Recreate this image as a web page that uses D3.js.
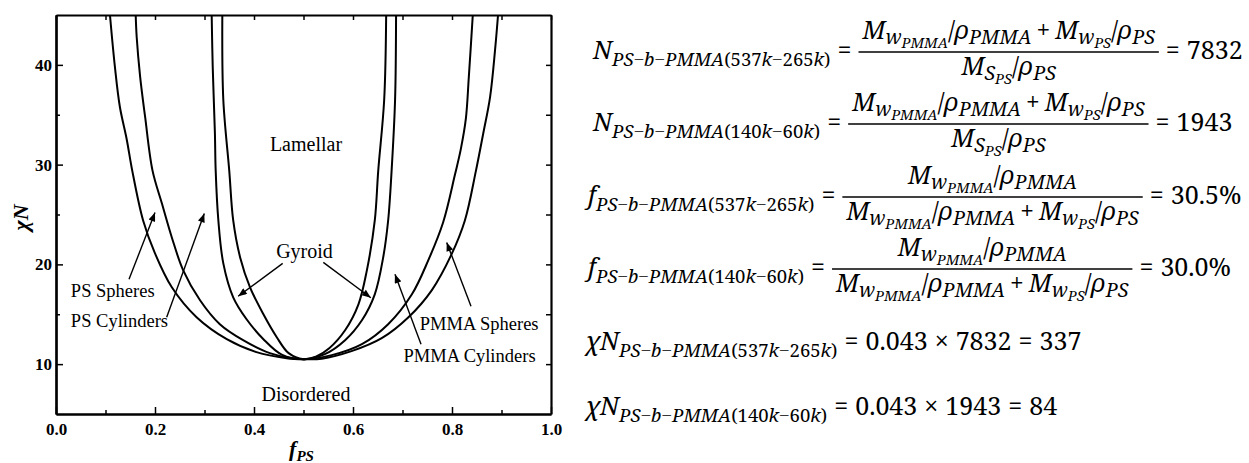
<!DOCTYPE html>
<html>
<head>
<meta charset="utf-8">
<script src="https://cdn.jsdelivr.net/npm/d3@7/dist/d3.min.js"></script>
<style>
  body { margin: 0; background: #fff; }
  svg { display: block; }
</style>
</head>
<body>
<div id="chart"></div>
<script>
// phase boundaries, each point is [f_PS, chiN]
var odtBoundary = [
  [0.109, 45.0], [0.119, 39.8], [0.129, 35.8], [0.143, 32.5], [0.154, 29.4],
  [0.176, 24.4], [0.200, 21.1], [0.234, 17.7], [0.284, 14.7], [0.345, 12.5],
  [0.405, 11.2], [0.466, 10.6], [0.500, 10.5], [0.537, 10.55], [0.597, 11.3],
  [0.658, 12.6], [0.712, 14.7], [0.759, 17.4], [0.799, 21.0], [0.826, 24.4],
  [0.848, 29.3], [0.863, 33.1], [0.877, 36.8], [0.887, 41.5], [0.893, 45.0]
];
var sphereCylBoundary = [
  [0.161, 45.0], [0.163, 42.8], [0.170, 38.8], [0.180, 34.8], [0.195, 29.4],
  [0.214, 26.1], [0.234, 22.7], [0.257, 19.4], [0.291, 16.4], [0.331, 14.0],
  [0.378, 12.4], [0.432, 11.1], [0.500, 10.5], [0.557, 10.9], [0.618, 12.0],
  [0.671, 14.0], [0.719, 17.0], [0.752, 20.4], [0.782, 24.2], [0.806, 29.0],
  [0.818, 31.6], [0.828, 34.6], [0.834, 38.8], [0.842, 45.0]
];
var cylGyroidBoundary = [
  [0.3145, 45.0], [0.3166, 39.8], [0.321, 33.2], [0.3226, 29.4], [0.328, 24.4],
  [0.338, 20.1], [0.358, 16.7], [0.385, 14.5], [0.419, 12.5], [0.456, 10.95],
  [0.500, 10.5], [0.543, 11.0], [0.584, 12.4], [0.618, 14.4], [0.644, 17.0],
  [0.661, 20.7], [0.671, 24.4], [0.678, 29.4], [0.685, 36.5], [0.687, 45.0]
];
var gyroidLamBoundary = [
  [0.336, 45.0], [0.338, 36.5], [0.350, 29.4], [0.358, 24.4], [0.372, 20.7],
  [0.392, 17.7], [0.419, 15.0], [0.446, 12.7], [0.470, 11.1], [0.500, 10.5],
  [0.525, 10.75], [0.552, 11.6], [0.584, 13.4], [0.611, 16.0], [0.628, 19.4],
  [0.644, 24.4], [0.651, 29.4], [0.663, 36.5], [0.667, 45.0]
];

var xMajorTicks = [0, 0.2, 0.4, 0.6, 0.8, 1.0];
var xMinorTicks = [0.1, 0.3, 0.5, 0.7, 0.9];
var yMajorTicks = [10, 20, 30, 40];
var yMinorTicks = [15, 25, 35];

// region names and the places (in f_PS, chiN) where they sit
var phaseNames = ["Lamellar", "Gyroid", "Disordered"];
var phaseNameAt = [[0.505, 31.4], [0.502, 20.6], [0.505, 6.3]];
var pointerNames = ["PS Spheres", "PS Cylinders", "PMMA Spheres", "PMMA Cylinders"];
var pointerNameAt = [[0.030, 16.7], [0.030, 13.7], [0.735, 13.45], [0.702, 10.25]];
// arrows: [from, to]
var arrows = [
  [[0.1475, 18.5], [0.200, 25.2]],
  [[0.2236, 14.7], [0.2996, 25.1]],
  [[0.458, 20.1], [0.368, 16.8]],
  [[0.540, 20.2], [0.636, 16.65]],
  [[0.8384, 15.8], [0.7893, 22.2]],
  [[0.7374, 12.0], [0.6848, 19.0]]
];

// equations on the right
var polymers = ["PS\u2212b\u2212PMMA(537k\u2212265k)", "PS\u2212b\u2212PMMA(140k\u221260k)"];
var chainLengths = ["7832", "1943"];
var fractions = ["30.5%", "30.0%"];
var chiValue = "0.043";
var chiN = ["337", "84"];

var width = 1249, height = 463;
var serif = "Liberation Serif";
var mathSerif = "Noto Serif";

var svg = d3.select("#chart").append("svg")
  .attr("width", width)
  .attr("height", height)
  .style("background", "#fff");

var x = d3.scaleLinear().domain([0, 1]).range([56, 551]);
var y = d3.scaleLinear().domain([5, 45]).range([414, 15]);

var defs = svg.append("defs");
defs.append("clipPath").attr("id", "plot")
  .append("rect")
  .attr("x", x(0)).attr("y", y(45))
  .attr("width", x(1) - x(0)).attr("height", y(5) - y(45));

var marker = defs.append("marker")
  .attr("id", "head")
  .attr("viewBox", "0 0 10 8")
  .attr("refX", 10).attr("refY", 4)
  .attr("markerWidth", 11).attr("markerHeight", 7)
  .attr("markerUnits", "userSpaceOnUse")
  .attr("orient", "auto");
marker.append("path").attr("d", "M0,0 L10,4 L0,8 Z").attr("fill", "#000");

// curves
var line = d3.line()
  .x(function(d) { return x(d[0]); })
  .y(function(d) { return y(d[1]); })
  .curve(d3.curveCatmullRom.alpha(0.5));

svg.append("g").attr("clip-path", "url(#plot)")
  .selectAll("path")
  .data([odtBoundary, sphereCylBoundary, cylGyroidBoundary, gyroidLamBoundary])
  .enter().append("path")
  .attr("d", line)
  .attr("fill", "none")
  .attr("stroke", "#000")
  .attr("stroke-width", 2);

// axes, ticks point inward on all four sides
function styleAxis(g) {
  g.attr("font-family", null).attr("font-size", null);
  g.select(".domain").attr("stroke-width", 2.2);
  g.selectAll(".tick line").attr("stroke-width", 1.5);
  g.selectAll("text")
    .style("font-family", serif)
    .style("font-weight", "bold")
    .style("font-size", "17px")
    .attr("fill", "#000");
}

svg.append("g").attr("transform", "translate(0," + y(5) + ")")
  .call(d3.axisBottom(x).tickValues(xMajorTicks).tickSize(-7).tickSizeOuter(0)
    .tickPadding(9).tickFormat(d3.format(".1f")))
  .call(styleAxis);
svg.append("g").attr("transform", "translate(0," + y(5) + ")")
  .call(d3.axisBottom(x).tickValues(xMinorTicks).tickSize(-4).tickSizeOuter(0).tickFormat(""))
  .call(styleAxis);
svg.append("g").attr("transform", "translate(0," + y(45) + ")")
  .call(d3.axisTop(x).tickValues(xMajorTicks.concat(xMinorTicks)).tickSize(-5).tickSizeOuter(0).tickFormat(""))
  .call(styleAxis);

svg.append("g").attr("transform", "translate(" + x(0) + ",0)")
  .call(d3.axisLeft(y).tickValues(yMajorTicks).tickSize(-7).tickSizeOuter(0).tickPadding(4))
  .call(styleAxis);
svg.append("g").attr("transform", "translate(" + x(0) + ",0)")
  .call(d3.axisLeft(y).tickValues(yMinorTicks).tickSize(-4).tickSizeOuter(0).tickFormat(""))
  .call(styleAxis);
svg.append("g").attr("transform", "translate(" + x(1) + ",0)")
  .call(d3.axisRight(y).tickValues(yMajorTicks.concat(yMinorTicks)).tickSize(-5).tickSizeOuter(0).tickFormat(""))
  .call(styleAxis);

// axis titles
svg.append("text")
  .attr("transform", "translate(28," + (y(25) + 3) + ") rotate(-90)")
  .attr("text-anchor", "middle")
  .style("font-family", serif)
  .style("font-weight", "bold")
  .style("font-style", "italic")
  .style("font-size", "22px")
  .text("\u03C7N");

var xTitle = svg.append("text")
  .attr("x", x(0.5) - 2)
  .attr("y", 456)
  .attr("text-anchor", "middle")
  .style("font-family", serif)
  .style("font-weight", "bold")
  .style("font-style", "italic")
  .style("font-size", "22px");
xTitle.append("tspan").text("f");
xTitle.append("tspan").attr("dy", 5).style("font-size", "15px").text("PS");

// region labels
svg.selectAll(".phase")
  .data(phaseNames)
  .enter().append("text")
  .attr("class", "phase")
  .attr("x", function(d, i) { return x(phaseNameAt[i][0]); })
  .attr("y", function(d, i) { return y(phaseNameAt[i][1]); })
  .attr("text-anchor", "middle")
  .style("font-family", serif)
  .style("font-size", "20px")
  .text(function(d) { return d; });

svg.selectAll(".pointer")
  .data(pointerNames)
  .enter().append("text")
  .attr("class", "pointer")
  .attr("x", function(d, i) { return x(pointerNameAt[i][0]); })
  .attr("y", function(d, i) { return y(pointerNameAt[i][1]); })
  .style("font-family", serif)
  .style("font-size", "18.5px")
  .text(function(d) { return d; });

svg.selectAll(".arrow")
  .data(arrows)
  .enter().append("line")
  .attr("class", "arrow")
  .attr("x1", function(d) { return x(d[0][0]); })
  .attr("y1", function(d) { return y(d[0][1]); })
  .attr("x2", function(d) { return x(d[1][0]); })
  .attr("y2", function(d) { return y(d[1][1]); })
  .attr("stroke", "#000")
  .attr("stroke-width", 1.4)
  .attr("marker-end", "url(#head)");

// ---- equations ----
var MAIN = 25, SUB = 18.5;
// fractions are set a little tighter
var F_MAIN = 24.5, F_SUB = 19.5, F_SUBSUB = 14.5;

function t(text, size, italic, dy, font) { return { t: text, size: size, it: italic, dy: dy || 0, font: font }; }
function gap(w) { return { gap: w }; }

// subscript like PS-b-PMMA(537k-265k): letters italic, digits upright, long minus
function polymerSub(label, dy) {
  return label.split(/([0-9()]+|\u2212)/).filter(function(s) { return s.length; })
    .map(function(s) {
      if (s === "\u2212") return t(s, SUB, false, dy, serif);
      return t(s, SUB, !/[0-9()]/.test(s), dy);
    });
}
function massTerm(sub, subsub) {
  return [t("M", F_MAIN, true), t(sub, F_SUB, true, 5), t(subsub, F_SUBSUB, true, 9)];
}
function densityTerm(name) {
  return [t("/", F_MAIN, false), t("\u03C1", F_MAIN, true), t(name, F_SUB, true, 5)];
}
var pmmaPart = massTerm("w", "PMMA").concat(densityTerm("PMMA"));
var psPart = massTerm("w", "PS").concat(densityTerm("PS"));
var totalVolume = pmmaPart.concat([gap(5), t("+", F_MAIN, false), gap(5)]).concat(psPart);
var segmentVolume = massTerm("S", "PS").concat(densityTerm("PS"));

function eqSign() { return [gap(7), t("=", MAIN, false), gap(7)]; }
function times() { return [gap(7), t("\u00D7", MAIN, false), gap(7)]; }

var equations = [
  { x0: 593, base: 59, items: [t("N", MAIN, true)].concat(polymerSub(polymers[0], 7), eqSign(),
      [{ num: totalVolume, den: segmentVolume }], eqSign(), [t(chainLengths[0], MAIN, false)]) },
  { x0: 593, base: 131, items: [t("N", MAIN, true)].concat(polymerSub(polymers[1], 7), eqSign(),
      [{ num: totalVolume, den: segmentVolume }], eqSign(), [t(chainLengths[1], MAIN, false)]) },
  { x0: 588, base: 204, items: [t("f", MAIN, true)].concat(polymerSub(polymers[0], 7), eqSign(),
      [{ num: pmmaPart, den: totalVolume }], eqSign(), [t(fractions[0], MAIN, false)]) },
  { x0: 588, base: 276, items: [t("f", MAIN, true)].concat(polymerSub(polymers[1], 7), eqSign(),
      [{ num: pmmaPart, den: totalVolume }], eqSign(), [t(fractions[1], MAIN, false)]) },
  { x0: 586, base: 350, items: [t("\u03C7N", MAIN, true)].concat(polymerSub(polymers[0], 7), eqSign(),
      [t(chiValue, MAIN, false)], times(), [t(chainLengths[0], MAIN, false)],
      eqSign(), [t(chiN[0], MAIN, false)]) },
  { x0: 586, base: 415, items: [t("\u03C7N", MAIN, true)].concat(polymerSub(polymers[1], 7), eqSign(),
      [t(chiValue, MAIN, false)], times(), [t(chainLengths[1], MAIN, false)],
      eqSign(), [t(chiN[1], MAIN, false)]) }
];

var eqLayer = svg.append("g").attr("fill", "#000");

// lays tokens out left to right from x0 on a baseline, returns the end x
function flow(g, tokens, x0, base) {
  var cx = x0;
  tokens.forEach(function(k) {
    if (k.gap) { cx += k.gap; return; }
    var node = g.append("text")
      .attr("x", cx)
      .attr("y", base + k.dy)
      .style("font-family", k.font || mathSerif)
      .style("font-size", k.size + "px")
      .style("font-style", k.it ? "italic" : "normal")
      .text(k.t);
    cx += node.node().getComputedTextLength();
  });
  return cx;
}

equations.forEach(function(eq) {
  var g = eqLayer.append("g");
  var cx = eq.x0;
  var axis = eq.base - 7;
  eq.items.forEach(function(item) {
    if (item.num) {
      var numG = g.append("g"), denG = g.append("g");
      var wn = flow(numG, item.num, 0, axis - 13);
      var wd = flow(denG, item.den, 0, axis + 23);
      var pad = 4;
      var w = Math.max(wn, wd) + 2 * pad;
      numG.attr("transform", "translate(" + (cx + (w - wn) / 2) + ",0)");
      denG.attr("transform", "translate(" + (cx + (w - wd) / 2) + ",0)");
      g.append("line")
        .attr("x1", cx).attr("x2", cx + w)
        .attr("y1", axis).attr("y2", axis)
        .attr("stroke", "#000").attr("stroke-width", 1.3);
      cx += w;
    } else {
      cx = flow(g, [item], cx, eq.base);
    }
  });
});
</script>
</body>
</html>
